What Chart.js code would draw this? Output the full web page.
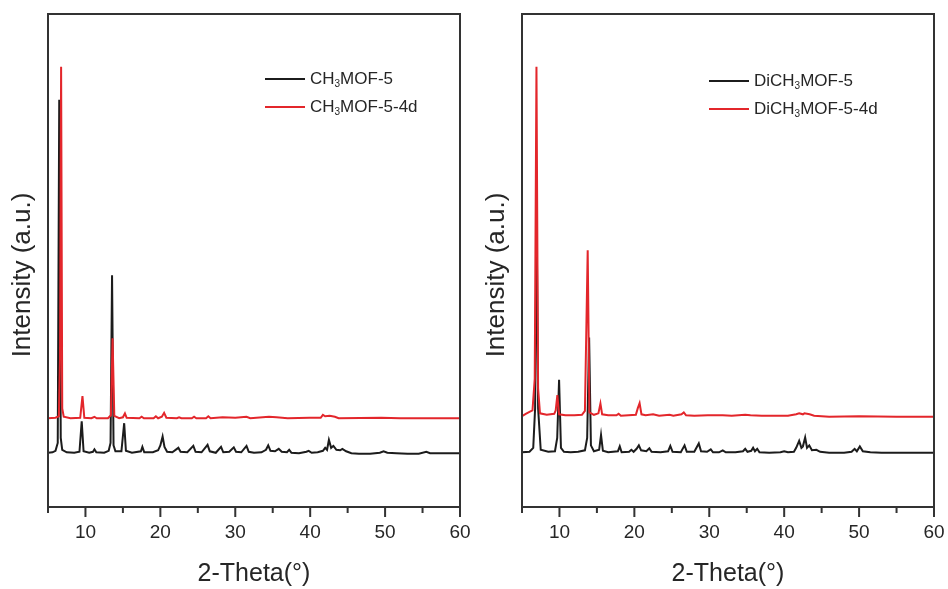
<!DOCTYPE html>
<html lang="en">
<head>
<meta charset="UTF-8">
<title>PXRD patterns of CH3MOF-5 and DiCH3MOF-5</title>
<script src="https://cdn.jsdelivr.net/npm/chart.js@4.4.1/dist/chart.umd.min.js"></script>
<style>
    body { margin: 0; background: #fff; }
    .panels { display: flex; width: 948px; height: 589px; }
    .panel { width: 474px; height: 589px; }
</style>
</head>
<body>
<div class="panels">
    <div class="panel"><canvas id="leftChart" width="474" height="589"></canvas></div>
    <div class="panel"><canvas id="rightChart" width="474" height="589"></canvas></div>
</div>
<script>
// 2-theta positions and stacked (offset) intensities, one pair of arrays per pattern
const ch3X = [5.0, 5.6, 6.0, 6.3, 6.5, 6.7, 6.9, 7.5, 8.5, 9.2, 9.5, 9.75, 10.5, 11.0, 11.2, 11.45, 12.5, 13.1, 13.35, 13.55, 13.75, 14.0, 14.8, 15.17, 15.4, 16.2, 17.4, 17.6, 17.85, 19.0, 19.7, 20.0, 20.3, 20.55, 20.9, 21.6, 22.4, 22.7, 23.6, 24.4, 24.7, 25.5, 26.3, 26.6, 27.4, 28.1, 28.4, 29.2, 29.8, 30.1, 30.8, 31.5, 31.8, 32.5, 33.5, 34.1, 34.4, 34.7, 35.3, 35.8, 36.2, 36.9, 37.2, 37.5, 38.5, 39.5, 39.8, 40.2, 41.0, 41.7, 42.0, 42.25, 42.5, 42.8, 43.1, 43.5, 44.0, 44.3, 44.8, 45.5, 46.5, 48.0, 49.3, 49.8, 50.3, 51.5, 53.0, 54.5, 55.5, 56.0, 57.5, 58.5, 60.0];
const ch3Y = [11.0, 11.1, 11.4, 13.0, 82.6, 14.0, 11.6, 11.1, 11.0, 11.2, 17.4, 11.3, 11.0, 11.2, 11.7, 11.1, 11.0, 11.4, 13.0, 47.0, 12.5, 11.3, 11.3, 17.0, 11.4, 11.0, 11.3, 12.2, 11.1, 11.1, 11.5, 12.5, 14.3, 12.2, 11.2, 11.1, 12.0, 11.2, 11.1, 12.4, 11.2, 11.1, 12.6, 11.3, 11.0, 12.2, 11.1, 11.2, 12.1, 11.2, 11.1, 12.4, 11.2, 11.0, 11.1, 11.6, 12.5, 11.4, 11.3, 11.8, 11.2, 11.1, 11.6, 11.0, 10.9, 11.2, 11.4, 11.0, 11.1, 11.4, 12.0, 11.6, 13.6, 12.0, 12.4, 11.6, 11.5, 11.8, 11.3, 10.9, 10.8, 10.8, 11.0, 11.3, 11.0, 10.9, 10.8, 10.8, 11.2, 10.9, 10.9, 10.9, 10.9];

const ch3AgedX = [5.0, 6.0, 6.45, 6.6, 6.75, 6.9, 7.1, 8.0, 9.3, 9.6, 9.85, 10.8, 11.2, 11.5, 13.0, 13.4, 13.62, 13.85, 14.5, 15.0, 15.27, 15.5, 17.2, 17.5, 17.8, 19.1, 19.4, 19.7, 20.2, 20.5, 20.8, 22.2, 22.5, 22.8, 24.2, 24.5, 24.8, 26.1, 26.4, 26.7, 28.3, 30.0, 31.5, 32.0, 34.5, 35.5, 37.0, 39.9, 41.4, 41.7, 42.0, 42.6, 43.3, 43.8, 49.5, 52.0, 60.0];
const ch3AgedY = [18.0, 18.1, 18.4, 30.0, 89.3, 20.0, 18.3, 18.0, 18.1, 22.5, 18.1, 18.0, 18.3, 18.0, 18.0, 18.6, 34.2, 18.5, 18.0, 18.2, 19.0, 18.1, 18.0, 18.3, 18.0, 18.0, 18.4, 18.0, 18.3, 19.1, 18.1, 18.0, 18.2, 18.0, 18.0, 18.3, 18.0, 18.0, 18.4, 18.0, 18.2, 18.1, 18.3, 18.0, 18.3, 18.2, 18.0, 18.1, 18.1, 18.7, 18.4, 18.5, 18.3, 18.0, 18.1, 18.0, 18.0];

const diX = [5.0, 6.0, 6.5, 6.75, 6.95, 7.15, 7.5, 8.5, 9.4, 9.7, 9.95, 10.2, 10.6, 11.5, 12.5, 13.4, 13.7, 13.96, 14.2, 14.6, 15.3, 15.55, 15.8, 16.5, 17.8, 18.05, 18.3, 19.3, 19.6, 19.9, 20.3, 20.6, 20.9, 21.6, 22.0, 22.3, 23.5, 24.5, 24.8, 25.1, 26.2, 26.7, 27.0, 28.0, 28.6, 28.9, 29.7, 30.2, 30.5, 31.3, 31.8, 32.2, 33.5, 34.5, 34.8, 35.1, 35.6, 35.85, 36.1, 36.4, 36.7, 38.0, 39.5, 40.0, 40.5, 41.3, 41.6, 42.0, 42.3, 42.5, 42.8, 43.05, 43.35, 43.7, 44.3, 44.8, 46.0, 48.0, 49.0, 49.4, 49.7, 50.1, 50.5, 51.5, 53.0, 55.0, 57.0, 60.0];
const diY = [11.1, 11.2, 12.0, 20.0, 60.0, 20.0, 11.6, 11.2, 11.3, 14.0, 25.8, 12.0, 11.2, 11.1, 11.2, 11.5, 14.0, 34.4, 12.5, 11.3, 11.6, 14.6, 11.4, 11.1, 11.3, 12.3, 11.1, 11.2, 11.6, 11.2, 11.8, 12.5, 11.5, 11.3, 11.9, 11.2, 11.1, 11.3, 12.4, 11.2, 11.1, 12.5, 11.2, 11.2, 12.9, 11.3, 11.2, 11.7, 11.1, 11.1, 11.5, 11.1, 11.1, 11.3, 11.8, 11.2, 11.4, 12.0, 11.3, 11.8, 11.1, 11.0, 11.1, 11.3, 11.1, 11.2, 12.0, 13.4, 12.0, 12.3, 14.1, 12.0, 12.5, 11.5, 11.6, 11.2, 11.0, 11.0, 11.2, 11.8, 11.3, 12.3, 11.3, 11.1, 11.0, 11.0, 11.0, 11.0];

const diAgedX = [5.0, 5.5, 6.0, 6.4, 6.7, 6.93, 7.15, 7.4, 8.3, 9.3, 9.5, 9.72, 9.95, 10.8, 12.0, 13.0, 13.4, 13.77, 14.0, 14.6, 15.2, 15.47, 15.7, 16.5, 17.6, 17.9, 18.2, 20.2, 20.45, 20.7, 20.95, 21.5, 22.5, 23.3, 24.7, 25.2, 26.3, 26.6, 26.9, 28.0, 29.8, 31.8, 33.0, 34.8, 35.5, 37.0, 40.5, 41.6, 42.0, 42.5, 42.7, 43.4, 44.0, 46.0, 50.0, 55.0, 60.0];
const diAgedY = [18.4, 18.9, 19.3, 19.6, 26.0, 89.3, 24.0, 19.0, 18.7, 18.9, 19.6, 22.7, 18.8, 18.6, 18.6, 18.7, 19.5, 52.1, 19.2, 18.7, 19.0, 21.0, 18.8, 18.6, 18.6, 18.9, 18.5, 18.7, 20.0, 21.05, 18.8, 18.6, 18.8, 18.5, 18.7, 18.5, 18.8, 19.2, 18.6, 18.5, 18.6, 18.6, 18.5, 18.7, 18.6, 18.5, 18.5, 18.8, 19.0, 18.8, 19.0, 18.8, 18.5, 18.3, 18.4, 18.3, 18.3];

// axis settings
const X_MIN = 5;
const X_MAX = 60;
const X_STEP = 5;
const Y_MIN = 0;
const Y_MAX = 100;

const FONT = '"Liberation Sans", Arial, Helvetica, sans-serif';
const INK = '#262626';
const BLACK_LINE = '#1c1c1c';
const RED_LINE = '#e3262b';

function toPoints(xs, ys) {
    return xs.map((x, i) => ({ x: x, y: ys[i] }));
}

// label text with a "₃" rendered as a small lowered 3
function drawFormula(ctx, text, x, y) {
    const parts = text.split('₃');
    ctx.font = '17px ' + FONT;
    ctx.fillText(parts[0], x, y);
    x += ctx.measureText(parts[0]).width;
    for (let i = 1; i < parts.length; i++) {
        ctx.font = '10px ' + FONT;
        ctx.fillText('3', x, y + 5);
        x += ctx.measureText('3').width;
        ctx.font = '17px ' + FONT;
        ctx.fillText(parts[i], x, y);
        x += ctx.measureText(parts[i]).width;
    }
}

// frame, minor/major ticks, rotated y title and the legend
const decorations = {
    id: 'decorations',
    afterDraw(chart, args, opts) {
        const { ctx, chartArea: area } = chart;
        const xScale = chart.scales.x;
        ctx.save();

        ctx.strokeStyle = '#333';
        ctx.lineWidth = 2;
        ctx.strokeRect(area.left, area.top, area.right - area.left, area.bottom - area.top);

        ctx.beginPath();
        xScale.ticks.forEach(t => {
            const px = xScale.getPixelForValue(t.value);
            const len = t.value % 10 === 0 ? 10 : 6;
            ctx.moveTo(px, area.bottom);
            ctx.lineTo(px, area.bottom + len);
        });
        ctx.stroke();

        ctx.fillStyle = INK;
        ctx.font = '26px ' + FONT;
        ctx.textAlign = 'center';
        ctx.textBaseline = 'middle';
        ctx.translate(23, 275);
        ctx.rotate(-Math.PI / 2);
        ctx.fillText(opts.yTitle, 0, 0);
        ctx.setTransform(1, 0, 0, 1, 0, 0);

        ctx.textAlign = 'left';
        chart.data.datasets.forEach((ds, i) => {
            const y = opts.legendY + i * 28;
            ctx.strokeStyle = ds.borderColor;
            ctx.lineWidth = 2;
            ctx.beginPath();
            ctx.moveTo(opts.legendX, y);
            ctx.lineTo(opts.legendX + 40, y);
            ctx.stroke();
            ctx.fillStyle = INK;
            drawFormula(ctx, ds.label, opts.legendX + 45, y);
        });
        ctx.restore();
    }
};

function createChart(canvasId, labels, series, legendX, legendY) {
    const ctx = document.getElementById(canvasId).getContext('2d');
    return new Chart(ctx, {
        type: 'line',
        data: {
            datasets: [{
                label: labels[0],
                data: toPoints(series[0][0], series[0][1]),
                borderColor: BLACK_LINE,
                borderWidth: 2,
                pointRadius: 0,
                tension: 0,
                order: 2
            }, {
                label: labels[1],
                data: toPoints(series[1][0], series[1][1]),
                borderColor: RED_LINE,
                borderWidth: 2,
                pointRadius: 0,
                tension: 0,
                order: 1
            }]
        },
        options: {
            responsive: false,
            animation: false,
            layout: { padding: { left: 48, right: 14, top: 14, bottom: 0 } },
            scales: {
                x: {
                    type: 'linear',
                    min: X_MIN,
                    max: X_MAX,
                    grid: { display: false, drawTicks: false },
                    border: { display: false },
                    ticks: {
                        stepSize: X_STEP,
                        autoSkip: false,
                        maxRotation: 0,
                        padding: 14,
                        color: INK,
                        font: { family: FONT, size: 19 },
                        callback: v => (v % 10 === 0 ? v : '')
                    },
                    title: {
                        display: true,
                        text: '2-Theta(°)',
                        color: INK,
                        padding: 0,
                        font: { family: FONT, size: 25 }
                    },
                    afterFit: scale => {
                        scale.height = 82;
                        scale.paddingLeft = 0;
                        scale.paddingRight = 0;
                    }
                },
                y: {
                    display: false,
                    min: Y_MIN,
                    max: Y_MAX
                }
            },
            plugins: {
                legend: { display: false },
                tooltip: { enabled: false },
                decorations: {
                    yTitle: 'Intensity (a.u.)',
                    legendX: legendX,
                    legendY: legendY
                }
            }
        },
        plugins: [decorations]
    });
}

createChart('leftChart', ['CH₃MOF-5', 'CH₃MOF-5-4d'],
    [[ch3X, ch3Y], [ch3AgedX, ch3AgedY]], 265, 79);
createChart('rightChart', ['DiCH₃MOF-5', 'DiCH₃MOF-5-4d'],
    [[diX, diY], [diAgedX, diAgedY]], 235, 81);
</script>
</body>
</html>
